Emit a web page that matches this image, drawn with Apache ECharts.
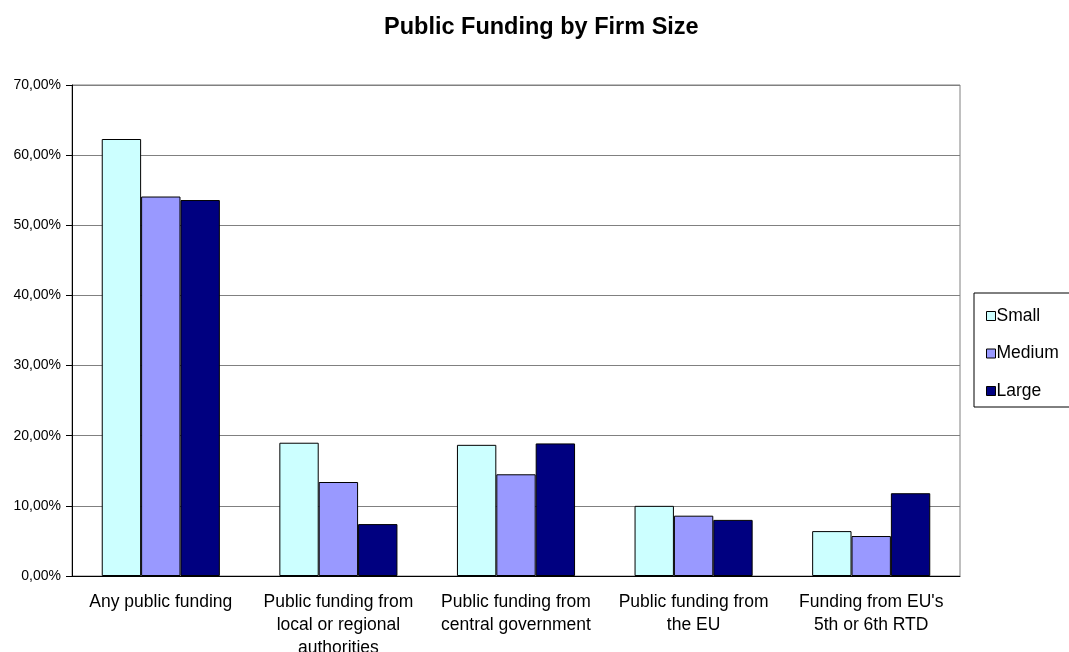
<!DOCTYPE html>
<html>
<head>
<meta charset="utf-8">
<script src="https://cdn.jsdelivr.net/npm/echarts@6/dist/echarts.min.js"></script>
<style>
  html, body { margin: 0; padding: 0; background: #fff; }
  #chart { width: 1069px; height: 652px; }
</style>
</head>
<body>
<div id="chart"></div>
<script>
// Share of firms receiving public funding, by source and firm size (%)
const categories = [
  'Any public funding',
  'Public funding from\nlocal or regional\nauthorities',
  'Public funding from\ncentral government',
  'Public funding from\nthe EU',
  "Funding from EU's\n5th or 6th RTD"
];
const small  = [62.3, 19.0, 18.7, 10.0, 6.4];
const medium = [54.1, 13.4, 14.5, 8.6, 5.7];
const large  = [53.6, 7.4, 18.9, 8.0, 11.8];
const seriesNames = ['Small', 'Medium', 'Large'];

const colors = ['#CCFFFF', '#9999FF', '#000080'];
const font = 'Arial, "Liberation Sans", sans-serif';

const chart = echarts.init(document.getElementById('chart'), null, { renderer: 'canvas' });

function barSeries(name, data, color) {
  return {
    name: name,
    type: 'bar',
    data: data,
    barGap: '0%',
    barCategoryGap: '33.5%',
    itemStyle: { color: color, borderColor: '#000', borderWidth: 1 },
    emphasis: { disabled: true }
  };
}

chart.setOption({
  animation: false,
  title: {
    text: 'Public Funding by Firm Size',
    left: 379,
    top: 11,
    textStyle: { fontFamily: font, fontSize: 23.5, fontWeight: 'bold', color: '#000' }
  },
  legend: {
    orient: 'vertical',
    left: 974,
    top: 293,
    padding: [14, 30, 7, 12],
    itemGap: 19.5,
    itemWidth: 9,
    itemHeight: 9,
    icon: 'rect',
    borderColor: '#000',
    borderWidth: 1,
    itemStyle: { borderColor: '#000', borderWidth: 1 },
    textStyle: { fontFamily: font, fontSize: 17.5, color: '#000', padding: [0, 0, 0, -4] },
    data: seriesNames
  },
  grid: {
    left: 72, right: 109, top: 85, bottom: 76,
    containLabel: false,
    outerBoundsMode: 'none',
    show: true, borderColor: '#808080', borderWidth: 1
  },
  xAxis: {
    type: 'category',
    data: categories,
    axisLine: { lineStyle: { color: '#000', width: 1 } },
    axisTick: { length: 6, lineStyle: { color: '#000' } },
    axisLabel: {
      fontFamily: font, fontSize: 17.5, color: '#000',
      margin: 14.5, lineHeight: 23, interval: 0
    }
  },
  yAxis: {
    type: 'value',
    min: 0, max: 70, interval: 10,
    axisLine: { show: true, lineStyle: { color: '#000', width: 1 } },
    axisTick: { show: true, length: 6, lineStyle: { color: '#000' } },
    splitLine: { lineStyle: { color: '#808080', width: 1 } },
    axisLabel: {
      fontFamily: font, fontSize: 14, color: '#000', margin: 11,
      formatter: v => v.toFixed(2).replace('.', ',') + '%'
    }
  },
  series: [
    barSeries(seriesNames[0], small, colors[0]),
    barSeries(seriesNames[1], medium, colors[1]),
    barSeries(seriesNames[2], large, colors[2])
  ]
});
</script>
</body>
</html>
